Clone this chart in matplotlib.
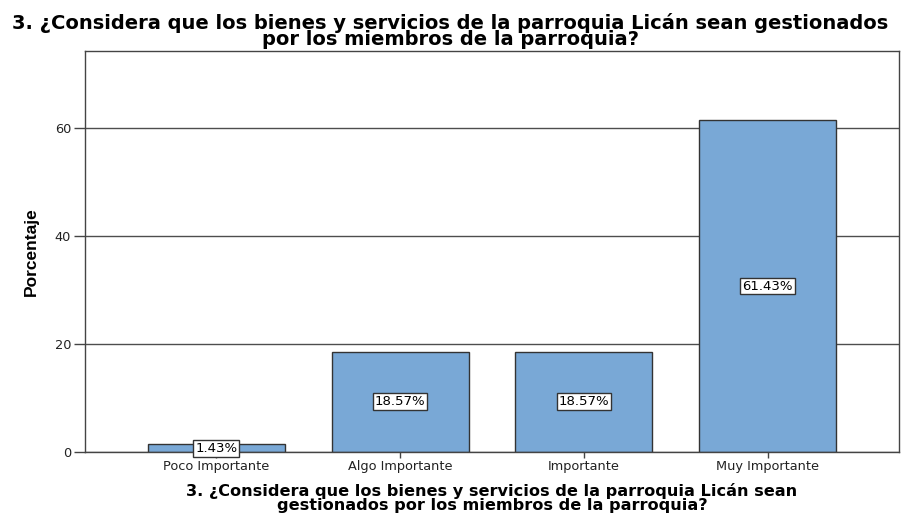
import matplotlib
matplotlib.use("Agg")
import matplotlib.pyplot as plt

categories = ["Poco Importante", "Algo Importante", "Importante", "Muy Importante"]
values = [1.43, 18.57, 18.57, 61.43]
yticks = [0, 20, 40, 60]
title = "3. ¿Considera que los bienes y servicios de la parroquia Licán sean gestionados\npor los miembros de la parroquia?"
xlabel = "3. ¿Considera que los bienes y servicios de la parroquia Licán sean\ngestionados por los miembros de la parroquia?"
ylabel = "Porcentaje"

fig = plt.figure(figsize=(9.01, 5.16), dpi=100)
ax = fig.add_axes([85/901, 1 - 452/516, (899-85)/901, (452-51)/516])

x = list(range(len(categories)))
ax.set_axisbelow(True)
ax.yaxis.grid(True, color="#4d4d4d", linewidth=1.0)
ax.bar(x, values, width=0.745, color="#79A8D6", edgecolor="#333333", linewidth=1.0, zorder=2)
for xi, v in zip(x, values):
    ax.text(xi, v/2, f"{v:.2f}%", ha="center", va="center", fontsize=9.5,
            family="DejaVu Sans", color="black", zorder=3,
            bbox=dict(boxstyle="square,pad=0.15", facecolor="white", edgecolor="#333333", linewidth=1.0))

ax.set_xlim(-0.715, 3.715)
ax.set_ylim(0, 74.2)
ax.set_yticks(yticks)
ax.set_xticks(x)
ax.set_xticklabels(categories, family="DejaVu Sans", fontsize=9.3, color="#222222")
ax.set_yticklabels([str(t) for t in yticks], family="DejaVu Sans", fontsize=9.3, color="#222222")
ax.tick_params(axis="y", length=8, width=1, color="#444444", pad=2)
ax.tick_params(axis="x", length=4, width=1, color="#444444", pad=2)
for s in ax.spines.values():
    s.set_color("#444444")
    s.set_linewidth(1.0)

ax.set_ylabel(ylabel, family="Liberation Sans", fontweight="bold", fontsize=12.5, labelpad=11)
ax.set_xlabel(xlabel, family="DejaVu Sans", fontweight="bold", fontsize=11.6, labelpad=7, linespacing=0.95)
fig.text(0.5, 1 - 31/516, title, ha="center", va="center", family="DejaVu Sans",
         fontweight="bold", fontsize=14, linespacing=0.85)

fig.savefig("out.png", dpi=100)
